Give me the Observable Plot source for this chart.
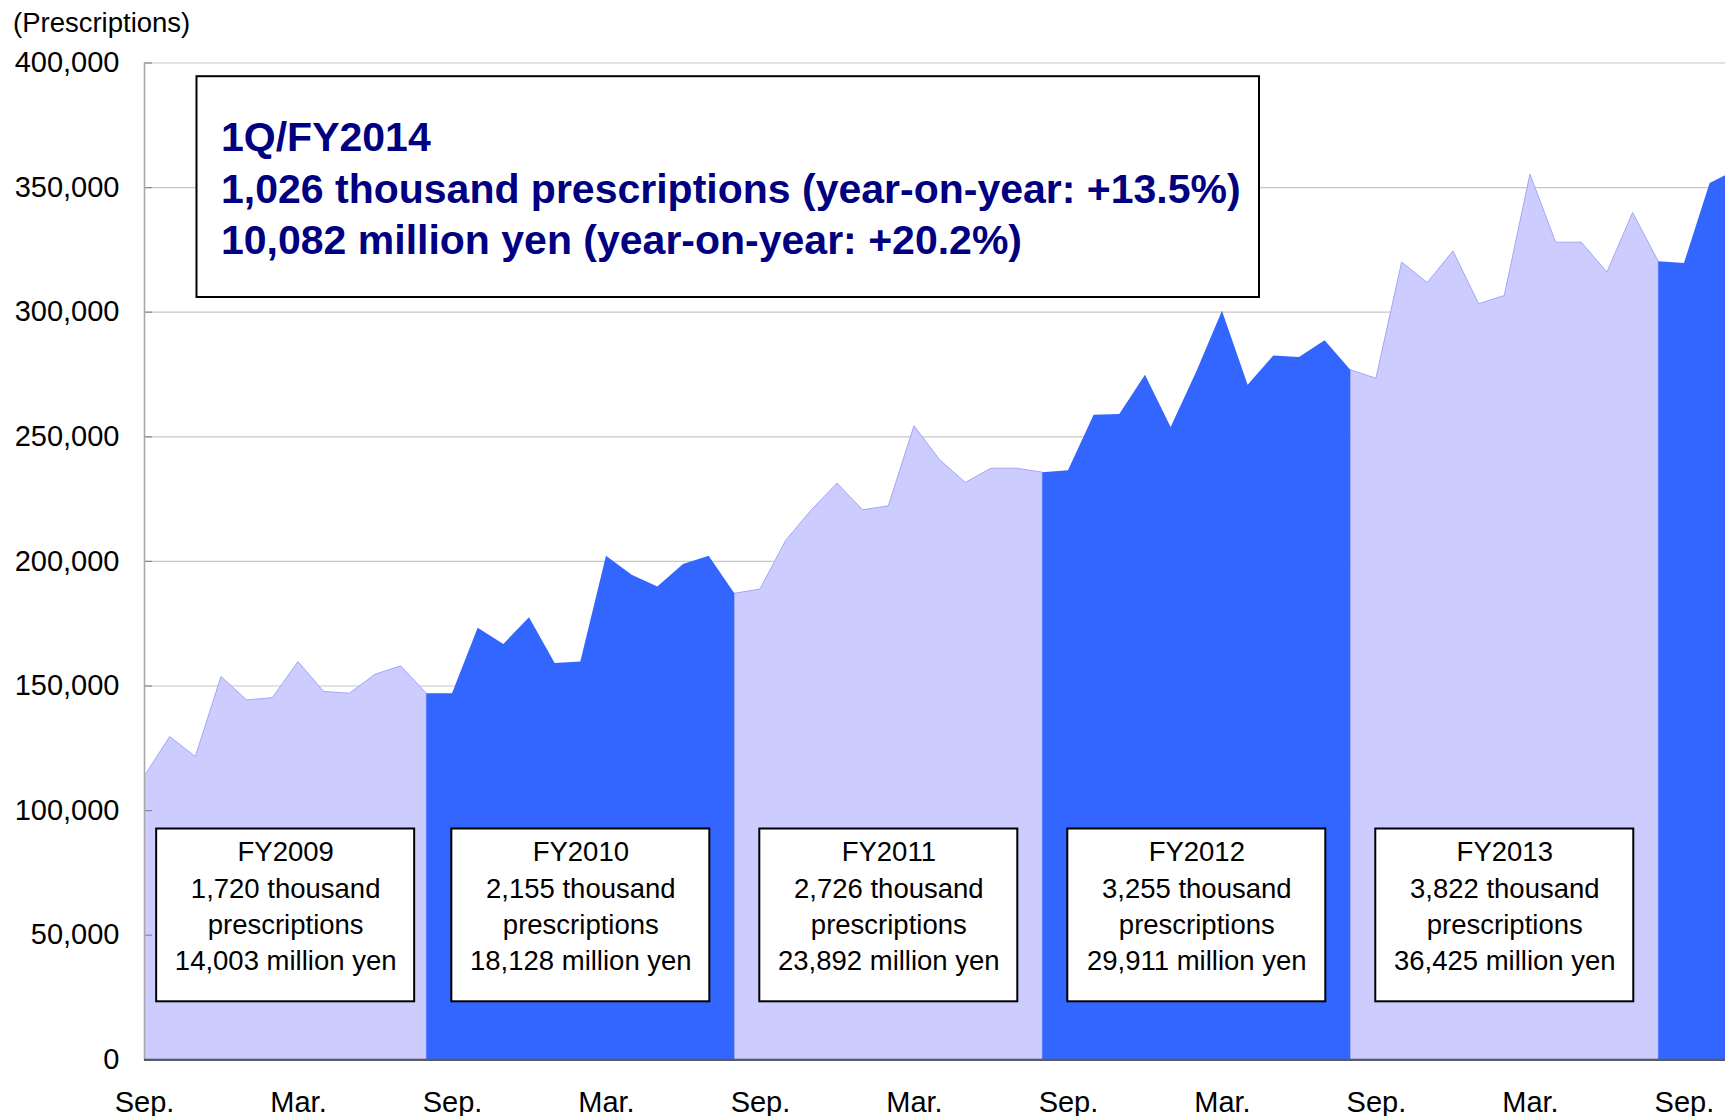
<!DOCTYPE html>
<html>
<head>
<meta charset="utf-8">
<script src="https://cdn.jsdelivr.net/npm/d3@7"></script>
<script src="https://cdn.jsdelivr.net/npm/@observablehq/plot@0.6"></script>
<style>
  body { margin: 0; background: #ffffff; }
  #chart { width: 1725px; height: 1116px; }
</style>
</head>
<body>
<div id="chart"></div>
<script>
// ---- Data ----
// Monthly prescriptions, month index 0 = first "Sep." tick
const monthlyPrescriptions = [
  113500, 129500, 121500, 153600, 144200, 145100, 159600, 147600, 146900, 154500, 157900, 146900,
  146900, 173200, 166700, 177400, 159000, 159600, 202100, 194400, 189700, 198800, 202100, 187000,
  188700, 208200, 220500, 231200, 220500, 222100, 254200, 240600, 231500, 237200, 237200, 235600,
  236400, 258600, 258900, 274700, 253700, 276000, 300400, 270700, 282400, 281800, 288500, 276700,
  273300, 319900, 311700, 324400, 303200, 306500, 355200, 327900, 327900, 315900, 339800, 320200,
  319500, 351600, 356800
];

const fiscalYears = ["FY2009", "FY2010", "FY2011", "FY2012", "FY2013", "FY2014"];
const fiscalFirstMonth = [0, 11, 23, 35, 47, 59];

const fyThousandPrescriptions = [1720, 2155, 2726, 3255, 3822];
const fyMillionYen = [14003, 18128, 23892, 29911, 36425];

const headlineLines = [
  "1Q/FY2014",
  "1,026 thousand prescriptions (year-on-year: +13.5%)",
  "10,082 million yen (year-on-year: +20.2%)"
];

const monthTickIndex = [0, 6, 12, 18, 24, 30, 36, 42, 48, 54, 60];
const monthTickLabels = ["Sep.", "Mar.", "Sep.", "Mar.", "Sep.", "Mar.", "Sep.", "Mar.", "Sep.", "Mar.", "Sep."];

const yTickValues = [0, 50000, 100000, 150000, 200000, 250000, 300000, 350000, 400000];
const yAxisTitle = "(Prescriptions)";

// ---- Derived tables ----
const fmt = d3.format(",");
const lastIndex = monthlyPrescriptions.length - 1;

const rows = fiscalYears.flatMap((fy, k) => {
  const start = fiscalFirstMonth[k];
  const end = k + 1 < fiscalYears.length ? fiscalFirstMonth[k + 1] : lastIndex;
  return d3.range(start, end + 1).map((i) => ({
    fy,
    month: i,
    value: monthlyPrescriptions[i],
    shade: k % 2 === 0 ? "light" : "dark"
  }));
});

const fyInfo = fyThousandPrescriptions.map((t, k) => ({
  fy: fiscalYears[k],
  mid: (fiscalFirstMonth[k] + fiscalFirstMonth[k + 1]) / 2,
  label: `${fiscalYears[k]}\n${fmt(t)} thousand\nprescriptions\n${fmt(fyMillionYen[k])} million yen`
}));

const tickLabelOf = new Map(monthTickIndex.map((m, j) => [m, monthTickLabels[j]]));

const FONT = "Arial, 'Liberation Sans', Helvetica, sans-serif";
const LIGHT = "#ccccff";
const DARK = "#3366ff";

const chart = Plot.plot({
  width: 1725,
  height: 1116,
  marginLeft: 144,
  marginRight: 0,
  marginTop: 62.5,
  marginBottom: 56.7,
  style: { fontFamily: FONT, fontSize: "29px", background: "#ffffff", color: "#000000", overflow: "visible" },
  x: {
    domain: [0, 61.6],
    ticks: monthTickIndex,
    tickFormat: (d) => tickLabelOf.get(d),
    tickSize: 0,
    tickPadding: 31.5,
    label: null
  },
  y: {
    domain: [0, 400000],
    ticks: yTickValues,
    tickFormat: fmt,
    tickSize: 0,
    tickPadding: 25,
    label: null
  },
  marks: [
    // horizontal gridlines
    Plot.ruleY(yTickValues, { stroke: "#c6c6c6", strokeWidth: 1.2 }),
    // areas per fiscal year
    Plot.areaY(rows.filter((d) => d.shade === "light"), {
      x: "month", y: "value", z: "fy", fill: LIGHT, stroke: "#a3a6f6", strokeWidth: 1, clip: true
    }),
    Plot.areaY(rows.filter((d) => d.shade === "dark"), {
      x: "month", y: "value", z: "fy", fill: DARK, clip: true
    }),
    // inward tick marks on the y axis
    Plot.ruleY(yTickValues, { stroke: "#8a8a8a", strokeWidth: 1.2, insetRight: 1573 }),
    // y axis line
    Plot.ruleX([0], { stroke: "#a8a8a8", strokeWidth: 1.6 }),
    // x axis baseline
    Plot.ruleY([0], { stroke: "#5a5a66", strokeWidth: 2.2 }),
    // headline box
    Plot.frame({
      fill: "#ffffff", stroke: "#000000", strokeWidth: 2,
      insetLeft: 52, insetRight: 466.5, insetTop: 13.2, insetBottom: 762.8
    }),
    Plot.text([headlineLines.join("\n")], {
      frameAnchor: "top-left", dx: 76.5, dy: 52,
      textAnchor: "start", lineAnchor: "top", lineHeight: 1.25,
      fontSize: 41, fontWeight: "bold", fill: "#000080", fontFamily: FONT
    }),
    // fiscal-year summary boxes
    Plot.rect(fyInfo, {
      x1: "mid", x2: "mid",
      insetLeft: -129, insetRight: -129, insetTop: 766, insetBottom: 58,
      fill: "#ffffff", stroke: "#000000", strokeWidth: 2
    }),
    Plot.text(fyInfo, {
      x: "mid", text: "label", frameAnchor: "bottom", dy: -155.5,
      lineAnchor: "middle", lineHeight: 1.32, fontSize: 27.5, fill: "#000000", fontFamily: FONT
    }),
    // y-axis title
    Plot.text([yAxisTitle], {
      frameAnchor: "top-left", dx: -131.5, dy: -50.5,
      textAnchor: "start", lineAnchor: "top", fontSize: 27.5, fill: "#000000", fontFamily: FONT
    })
  ]
});

document.getElementById("chart").appendChild(chart);
</script>
</body>
</html>
